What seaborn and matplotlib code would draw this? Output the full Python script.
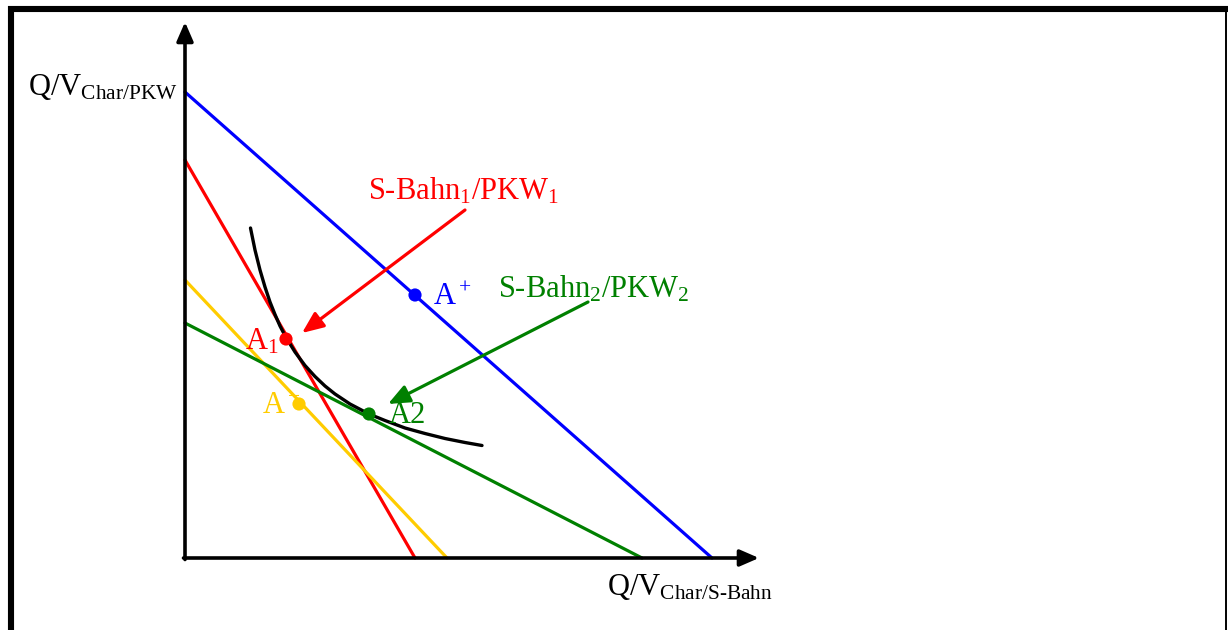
import numpy as np
import pandas as pd
import seaborn as sns
import matplotlib.pyplot as plt
from matplotlib.lines import Line2D

# Budget lines, given by their intercepts on the two axes
line_names = ["blue", "red", "yellow", "green"]
y_intercepts = [9.32, 7.96, 5.56, 4.70]
x_intercepts = [10.54, 4.60, 5.24, 9.14]
line_colors = ["#0000ff", "#ff0000", "#ffcc00", "#008000"]

# Indifference curve
curve_x = [1.31, 1.40, 1.50, 1.60, 1.70, 1.80, 1.90, 2.02, 2.20, 2.40, 2.60,
           2.80, 3.00, 3.30, 3.68, 4.00, 4.40, 4.80, 5.20, 5.60, 5.94]
curve_y = [6.60, 6.16, 5.76, 5.42, 5.12, 4.87, 4.64, 4.41, 4.12, 3.85, 3.63,
           3.44, 3.28, 3.08, 2.88, 2.75, 2.60, 2.49, 2.39, 2.31, 2.25]

# Marked points
point_names = ["A+", "A1", "A-", "A2"]
point_x = [4.60, 2.02, 2.28, 3.68]
point_y = [5.26, 4.38, 3.08, 2.88]
point_colors = ["#0000ff", "#ff0000", "#ffcc00", "#008000"]

sns.set_style("white")
plt.rcParams["font.family"] = ["Liberation Serif", "DejaVu Serif"]
plt.rcParams["mathtext.fontset"] = "custom"
plt.rcParams["mathtext.rm"] = "Liberation Serif"
plt.rcParams["mathtext.it"] = "Liberation Serif"
plt.rcParams["text.color"] = "black"

fig = plt.figure(figsize=(12.28, 6.30), dpi=100)
ax = fig.add_axes([0, 0, 1, 1])
ax.set_xlim(-3.7, 20.86)
ax.set_ylim(-1.44, 11.16)
ax.axis("off")

df_lines = pd.DataFrame({
    "x": [v for xi in x_intercepts for v in (0.0, xi)],
    "y": [v for yi in y_intercepts for v in (yi, 0.0)],
    "line": [n for n in line_names for _ in range(2)],
})
sns.lineplot(data=df_lines, x="x", y="y", hue="line", palette=dict(zip(line_names, line_colors)),
             sort=False, estimator=None, legend=False, linewidth=2.3, ax=ax)

df_curve = pd.DataFrame({"x": curve_x, "y": curve_y})
sns.lineplot(data=df_curve, x="x", y="y", color="black", sort=False, estimator=None,
             linewidth=2.4, ax=ax)

df_pts = pd.DataFrame({"x": point_x, "y": point_y, "name": point_names})
sns.scatterplot(data=df_pts, x="x", y="y", hue="name", palette=dict(zip(point_names, point_colors)),
                s=90, edgecolor="none", legend=False, ax=ax, zorder=5)

# Axes with arrow heads
arrow_kw = dict(arrowstyle="-|>,head_length=1.15,head_width=0.5", color="black", lw=2.6,
                shrinkA=0, shrinkB=0)
ax.annotate("", xy=(11.48, 0), xytext=(-0.03, 0), arrowprops=arrow_kw)
ax.annotate("", xy=(0, 10.72), xytext=(0, -0.03), arrowprops=arrow_kw)

# Pointer arrows
ax.annotate("", xy=(2.34, 4.50), xytext=(5.60, 6.96),
            arrowprops=dict(arrowstyle="-|>,head_length=1.3,head_width=0.55", color="#ff0000",
                            lw=2.3, shrinkA=0, shrinkB=0))
ax.annotate("", xy=(4.06, 3.08), xytext=(8.06, 5.12),
            arrowprops=dict(arrowstyle="-|>,head_length=1.3,head_width=0.55", color="#008000",
                            lw=2.3, shrinkA=0, shrinkB=0))

fs = 22
ax.text(-0.14, 9.26, r"Q/V$_{\mathrm{Char/PKW}}$", fontsize=fs, ha="right", va="baseline")
ax.text(8.44, -0.74, r"Q/V$_{\mathrm{Char/S\text{-}Bahn}}$", fontsize=fs, ha="left", va="baseline")
ax.text(3.66, 7.16, r"S-Bahn$_1$/PKW$_1$", fontsize=fs, color="#ff0000", va="baseline")
ax.text(6.26, 5.22, r"S-Bahn$_2$/PKW$_2$", fontsize=fs, color="#008000", va="baseline")
ax.text(4.96, 5.06, r"A$^+$", fontsize=fs, color="#0000ff", va="baseline")
ax.text(1.20, 4.18, r"A$_1$", fontsize=fs, color="#ff0000", va="baseline")
ax.text(1.54, 2.90, r"A$^-$", fontsize=fs, color="#ffcc00", va="baseline")
ax.text(4.08, 2.70, "A2", fontsize=fs, color="#008000", va="baseline")

# Frame around the picture
W, H = 1228, 630
frame_kw = dict(color="black", solid_capstyle="butt", transform=fig.transFigure)
fig.add_artist(Line2D([8 / W, 1], [1 - 9 / H, 1 - 9 / H], lw=4.4, **frame_kw))
fig.add_artist(Line2D([11 / W, 11 / W], [0, 1 - 6 / H], lw=4.4, **frame_kw))
fig.add_artist(Line2D([1226 / W, 1226 / W], [0, 1 - 9 / H], lw=1.4, **frame_kw))

fig.savefig("out.png", dpi=100)
